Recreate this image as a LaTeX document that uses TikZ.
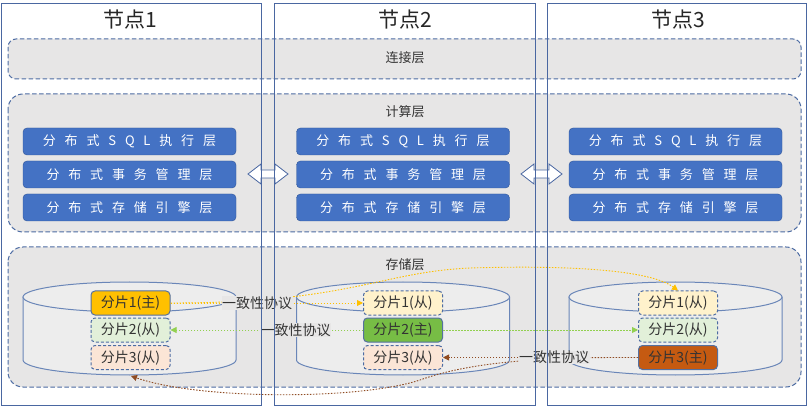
\documentclass[tikz,border=0pt]{standalone}
\usepackage{fontspec}
\setmainfont{Noto Sans CJK SC}
\usetikzlibrary{arrows.meta}
\definecolor{framec}{HTML}{4A67A1}
\definecolor{layerdraw}{HTML}{4D6CA3}
\definecolor{layerfill}{HTML}{E7E6E6}
\definecolor{cylfill}{HTML}{EDEDED}
\definecolor{cyldraw}{HTML}{6A86B8}
\definecolor{boxfill}{HTML}{4472C4}
\definecolor{boxdraw}{HTML}{2F5597}
\definecolor{txt}{HTML}{333333}
\definecolor{titlec}{HTML}{262626}
\definecolor{primdraw}{HTML}{55709F}
\definecolor{secdraw}{HTML}{4D6CA3}
\definecolor{goldc}{HTML}{FFC000}
\definecolor{greenc}{HTML}{77BD45}
\definecolor{brownc}{HTML}{C55A11}
\definecolor{sec1}{HTML}{FFF2CC}
\definecolor{sec2}{HTML}{E2F0D9}
\definecolor{sec3}{HTML}{FBE5D6}
\definecolor{arry}{HTML}{FFC000}
\definecolor{arrg}{HTML}{92D050}
\definecolor{arrb}{HTML}{8F4B22}
\newcommand\gx{\hspace{0.68em}}
\newcommand\cylinder[1]{%
  \fill[cylfill] ({#1-106.5},297) -- ({#1-106.5},360) .. controls ({#1-106.5},368.3) and ({#1-58.8},375) .. (#1,375) .. controls ({#1+58.8},375) and ({#1+106.5},368.3) .. ({#1+106.5},360) -- ({#1+106.5},297) -- cycle;
  \draw[cyldraw, line width=1pt] ({#1-106.5},297) -- ({#1-106.5},360) .. controls ({#1-106.5},368.3) and ({#1-58.8},375) .. (#1,375) .. controls ({#1+58.8},375) and ({#1+106.5},368.3) .. ({#1+106.5},360) -- ({#1+106.5},297);
  \filldraw[fill=cylfill, draw=cyldraw, line width=1pt] (#1,297) ellipse [x radius=106.5pt, y radius=15pt];
}
\begin{document}
\begin{tikzpicture}[x=1pt,y=-1pt,
  frame/.style={draw=framec, line width=0.9pt},
  layer/.style={draw=layerdraw, fill=layerfill, dash pattern=on 4.5pt off 2.5pt, line width=1pt},
  bluebox/.style={draw=boxdraw, fill=boxfill, rounded corners=4pt, minimum width=213pt, minimum height=27pt, inner sep=0pt, text=white, font=\fontsize{13}{15}\selectfont},
  shard/.style={rounded corners=4pt, minimum width=79pt, minimum height=24pt, inner sep=0pt, font=\fontsize{14}{16}\selectfont, text=txt, line width=1pt},
  prim/.style={shard, draw=primdraw},
  sec/.style={shard, draw=secdraw, dash pattern=on 3pt off 2pt},
  sync/.style={line width=0.9pt, dash pattern=on 1.5pt off 1.5pt, -{Triangle[length=6pt,width=6pt]}},
  proto/.style={font=\fontsize{14}{16}\selectfont, text=txt, fill=layerfill, inner sep=0.5pt},
  layerlabel/.style={font=\fontsize{13}{15}\selectfont, text=txt},
  titletext/.style={font=\fontsize{21}{25}\selectfont, text=titlec},
  dbl/.style={draw=framec, fill=white, line width=0.8pt}]
\useasboundingbox (0,0) rectangle (809,406);
\fill[white] (0,0) rectangle (809,406);
% layers
\draw[layer, rounded corners=8pt] (8,39) rectangle (801,79);
\draw[layer, rounded corners=15pt] (8,94) rectangle (801,232);
\draw[layer, rounded corners=15pt] (8,247) rectangle (801,387);
% titles
\node[titletext] (t1) at (130,20) {节点1};
\node[titletext] (t2) at (405,20) {节点2};
\node[titletext] (t3) at (678,20) {节点3};
% layer labels
\node[layerlabel] (l1) at (405,58) {连接层};
\node[layerlabel] (l2) at (405,112) {计算层};
\node[layerlabel] (l3) at (405,265) {存储层};
% blue boxes
\foreach \i/\cx in {1/129.5, 2/403, 3/675.5} {
  \node[bluebox] (b\i1) at (\cx,141.5) {分\gx 布\gx 式\gx S\gx Q\gx L\gx 执\gx 行\gx 层};
  \node[bluebox] (b\i2) at (\cx,174.5) {分\gx 布\gx 式\gx 事\gx 务\gx 管\gx 理\gx 层};
  \node[bluebox] (b\i3) at (\cx,207.5) {分\gx 布\gx 式\gx 存\gx 储\gx 引\gx 擎\gx 层};
}
% cylinders
\cylinder{129.5}
\cylinder{403}
\cylinder{675.5}
\coordinate (c1bot) at (131,376);
% shards
\node[prim, fill=goldc] (s11) at (130.5,303) {分片1(主)};
\node[sec, fill=sec2] (s12) at (130.5,330) {分片2(从)};
\node[sec, fill=sec3] (s13) at (130.5,357.5) {分片3(从)};
\node[sec, fill=sec1] (s21) at (403,303) {分片1(从)};
\node[prim, fill=greenc] (s22) at (403,330) {分片2(主)};
\node[sec, fill=sec3] (s23) at (403,357.5) {分片3(从)};
\node[sec, fill=sec1] (s31) at (678,303) {分片1(从)};
\node[sec, fill=sec2] (s32) at (678,330) {分片2(从)};
\node[prim, fill=brownc] (s33) at (678,357.5) {分片3(主)};
% curved sync arrows
\draw[sync, arry] (s11.east) .. controls (350,303) and (380,272) .. (470,268) .. controls (570,265) and (650,270) .. (s31.north);
\draw[sync, arrb] (s33.west) .. controls (540,357) and (470,362) .. (420,380) .. controls (360,400) and (200,400) .. (c1bot);
% straight sync arrows
\draw[sync, arry] (s11.east) -- node[proto, pos=0.45] (p1) {一致性协议} (s21.west);
\draw[sync, arrg] (s22.west) -- node[proto, pos=0.35] (p2) {一致性协议} (s12.east);
\draw[sync, arrg] (s22.east) -- (s32.west);
\draw[sync, arrb] (s33.west) -- node[proto, pos=0.43] (p3) {一致性协议} (s23.east);
% double arrows
\filldraw[dbl] (248,174) -- (261,164) -- (261,170) -- (275,170) -- (275,164) -- (288,174) -- (275,184) -- (275,178) -- (261,178) -- (261,184) -- cycle;
\filldraw[dbl] (521,174) -- (534,164) -- (534,170) -- (549,170) -- (549,164) -- (562,174) -- (549,184) -- (549,178) -- (534,178) -- (534,184) -- cycle;
% node frames
\draw[frame] (1,3) rectangle (261,405);
\draw[frame] (274,3) rectangle (535,405);
\draw[frame] (547,3) rectangle (806,405);
\end{tikzpicture}
\end{document}
